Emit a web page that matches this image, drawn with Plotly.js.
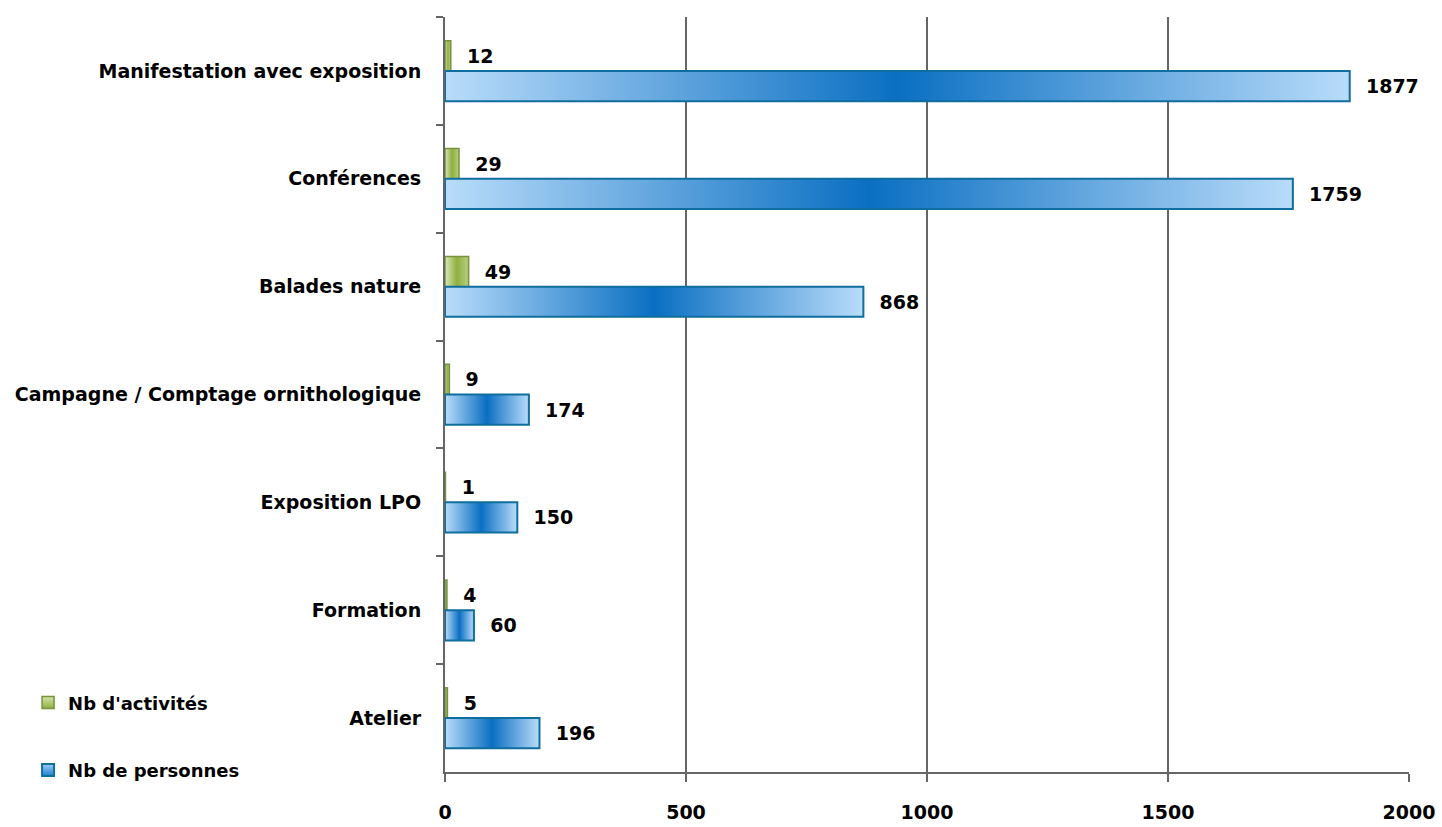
<!DOCTYPE html>
<html>
<head>
<meta charset="utf-8">
<script src="https://cdn.plot.ly/plotly-3.0.1.min.js"></script>
<style>
  html, body { margin: 0; padding: 0; background: #fff; }
  #chart { width: 1442px; height: 827px; }
</style>
</head>
<body>
<div id="chart"></div>
<script>
const categories = ['Manifestation avec exposition', 'Conférences', 'Balades nature',
  'Campagne / Comptage ornithologique', 'Exposition LPO', 'Formation', 'Atelier'];
const nbActivites = [12, 29, 49, 9, 1, 4, 5];
const nbPersonnes = [1877, 1759, 868, 174, 150, 60, 196];
const xTicks = [0, 500, 1000, 1500, 2000];
const seriesNames = ["Nb d'activités", 'Nb de personnes'];

const FONT = 'DejaVu Sans, sans-serif';
const labelFont = { family: FONT, size: 19, color: '#000', weight: 'bold' };

const traces = [
  {
    type: 'bar', orientation: 'h', name: seriesNames[0], legendgroup: 'a',
    y: categories, x: nbActivites,
    marker: { color: '#9bbb59', line: { color: '#77933c', width: 1.5 } },
    text: nbActivites.map(v => '\u00a0\u00a0' + v), textposition: 'outside',
    textfont: labelFont, cliponaxis: false, hoverinfo: 'x+y'
  },
  {
    type: 'bar', orientation: 'h', name: seriesNames[1], legendgroup: 'b',
    y: categories, x: nbPersonnes,
    marker: { color: '#4a9ee0', line: { color: '#0f6e9e', width: 2 } },
    text: nbPersonnes.map(v => '\u00a0\u00a0' + v), textposition: 'outside',
    textfont: labelFont, cliponaxis: false, hoverinfo: 'x+y'
  }
];

const layout = {
  width: 1442, height: 827,
  margin: { l: 445, r: 33, t: 17, b: 55 },
  paper_bgcolor: '#fff', plot_bgcolor: '#fff',
  barmode: 'group', bargap: 0.44, bargroupgap: 0,
  font: { family: FONT, size: 18, color: '#000' },
  showlegend: true,
  legend: {
    x: -0.4325, xanchor: 'left', y: 0.116, yanchor: 'top',
    traceorder: 'grouped', tracegroupgap: 41,
    font: { family: FONT, size: 18, color: '#000', weight: 'bold' },
    bgcolor: 'rgba(0,0,0,0)'
  },
  xaxis: {
    range: [0, 2000], tickvals: xTicks, ticktext: xTicks.map(String),
    showgrid: true, gridcolor: '#666', gridwidth: 2,
    showline: true, linecolor: '#666', linewidth: 2,
    ticks: 'outside', ticklen: 8, tickcolor: '#666', tickwidth: 2,
    ticklabelstandoff: 14,
    tickfont: { family: FONT, size: 19, color: '#000', weight: 'bold' },
    zeroline: false, fixedrange: true
  },
  yaxis: {
    type: 'category', autorange: 'reversed',
    tickson: 'boundaries', ticks: 'outside', ticklen: 7, tickcolor: '#666', tickwidth: 2,
    showline: true, linecolor: '#666', linewidth: 2,
    showgrid: false, zeroline: false,
    ticklabelstandoff: 18,
    tickfont: { family: FONT, size: 19, color: '#000', weight: 'bold' },
    fixedrange: true
  }
};

Plotly.newPlot('chart', traces, layout, { displayModeBar: false, staticPlot: true }).then(gd => {
  const svgNS = 'http://www.w3.org/2000/svg';
  const svg = gd.querySelector('svg.main-svg');
  let defs = svg.querySelector('defs');
  if (!defs) { defs = document.createElementNS(svgNS, 'defs'); svg.insertBefore(defs, svg.firstChild); }
  function addGrad(id, stops, vertical) {
    const g = document.createElementNS(svgNS, 'linearGradient');
    g.setAttribute('id', id);
    g.setAttribute('x1', '0'); g.setAttribute('y1', '0');
    g.setAttribute('x2', vertical ? '0' : '1'); g.setAttribute('y2', vertical ? '1' : '0');
    stops.forEach(([off, col]) => {
      const s = document.createElementNS(svgNS, 'stop');
      s.setAttribute('offset', off); s.setAttribute('stop-color', col);
      g.appendChild(s);
    });
    defs.appendChild(g);
  }
  addGrad('gradBlue', [['0', '#b9dcfa'], ['0.5', '#0a6fc2'], ['1', '#b9dcfa']]);
  addGrad('gradGreen', [['0', '#d9e7b8'], ['0.5', '#8fb03e'], ['1', '#b8cf84']]);
  addGrad('legBlue', [['0', '#9fcdf5'], ['1', '#1f7fd0']], true);
  addGrad('legGreen', [['0', '#d2e2a8'], ['1', '#8fb03e']], true);
  const ids = ['gradGreen', 'gradBlue'];
  const legIds = ['legGreen', 'legBlue'];
  gd.querySelectorAll('.barlayer .trace').forEach((tr, i) => {
    tr.querySelectorAll('path').forEach(p => { p.style.fill = 'url(#' + ids[i] + ')'; });
  });
  gd.querySelectorAll('.legend .traces').forEach((tr, i) => {
    tr.querySelectorAll('.legendpoints path').forEach(p => { p.style.fill = 'url(#' + legIds[i] + ')'; });
  });
});
</script>
</body>
</html>
